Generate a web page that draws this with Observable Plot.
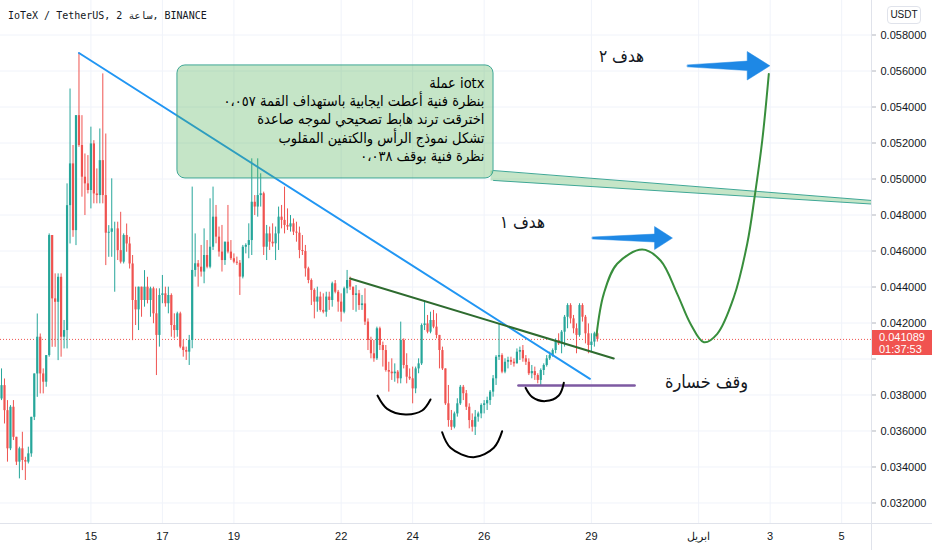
<!DOCTYPE html>
<html>
<head>
<meta charset="utf-8">
<script src="https://cdn.jsdelivr.net/npm/d3@7"></script>
<script src="https://cdn.jsdelivr.net/npm/@observablehq/plot@0.6"></script>
<style>
  html, body { margin: 0; padding: 0; background: #fff; }
  #wrap { position: relative; width: 932px; height: 550px; overflow: hidden; }
  #title { position: absolute; left: 8px; top: 10px; font: 10px "DejaVu Sans Mono", monospace; color: #131722; white-space: nowrap; }
  #usdt { position: absolute; left: 887px; top: 6px; width: 32px; height: 16px; border: 1px solid #e0e3eb; border-radius: 4px; font: 10px "Liberation Sans", sans-serif; color: #131722; text-align: center; line-height: 16px; background: #fff; }
  #last { position: absolute; left: 872px; width: 60px; height: 25px; background: #f05350; color: #fff; font: 11px "Liberation Sans", sans-serif; line-height: 12px; padding-top: 1px; box-sizing: border-box; padding-left: 7px; }
</style>
</head>
<body>
<div id="wrap">
  <div id="chart"></div>
  <div id="title">IoTeX / TetherUS, 2 ساعة, BINANCE</div>
  <div id="usdt">USDT</div>
  <div id="last"></div>
</div>
<script>
// ---------- candles (2-hour bars) ----------
const candleStart = "2021-03-12T12:00Z";
const stepHours = 2;
const firstOpen = 0.03778;
const closes = [
  0.03852,0.03713,0.03501,0.03732,0.03565,0.03427,0.03501,0.03436,0.03427,0.03473,
  0.03676,0.03917,0.04121,0.03917,0.03871,0.04019,0.04686,0.04334,0.04315,0.04454,
  0.04121,0.04158,0.04852,0.05084,0.04713,0.05352,0.05186,0.05010,0.04973,0.04936,
  0.05195,0.04917,0.04908,0.05102,0.04908,0.04699,0.04704,0.04723,0.04723,0.04602,
  0.04538,0.04686,0.04639,0.04528,0.04325,0.04273,0.04399,0.04325,0.04399,0.04325,
  0.04390,
  0.04251,0.04131,0.04353,0.04362,0.04307,0.04353,0.04186,0.04158,0.04251,0.04066,
  0.04047,0.04038,0.04103,0.04492,0.04529,0.04510,0.04483,0.04575,0.04510,0.04621,
  0.04788,0.04677,0.04594,0.04547,0.04649,0.04594,0.04557,0.04538,0.04532,0.04455,
  0.04621,0.04631,0.04658,0.04871,0.04844,0.04908,0.04918,0.04621,0.04695,0.04649,
  0.04640,0.04695,0.04788,0.04770,0.04742,0.04733,0.04751,0.04705,0.04699,0.04603,
  0.04597,0.04501,0.04436,
  0.04381,0.04316,0.04344,0.04270,0.04260,0.04344,0.04325,0.04418,0.04371,0.04316,
  0.04260,0.04390,0.04436,0.04399,0.04353,0.04362,0.04297,0.04306,0.04205,0.04103,
  0.04029,0.04001,0.04168,0.04075,0.04047,0.03936,0.03927,0.03918,0.03927,0.03890,
  0.04103,0.03964,0.03899,0.03890,0.03834,0.03945,0.03973,0.04186,0.04195,0.04149,
  0.04214,0.04177,0.04131,0.04047,0.03945,
  0.03751,0.03658,0.03621,0.03695,0.03751,0.03843,0.03807,0.03732,0.03658,0.03621,
  0.03677,0.03695,0.03742,0.03751,0.03769,0.03816,0.03890,0.04010,0.04019,0.03927,
  0.03982,0.03992,0.03982,0.03973,0.04038,0.04047,0.04001,0.03982,0.03918,0.03930,
  0.03908,0.03881,0.03936,0.03964,0.04001,0.04019,0.04047,0.04103,0.04084,0.04149,
  0.04232,0.04297,0.04223,0.04168,0.04131,0.04297,0.04232,0.04140,0.04075,0.04094,
  0.04140,0.04109
];
const highs = [
  0.03945,0.03889,0.03769,0.03741,0.03769,0.03565,0.03510,0.03593,0.03454,0.03510,
  0.03676,0.03917,0.04250,0.04139,0.03945,0.04019,0.04695,0.04686,0.04473,0.04473,
  0.04473,0.04214,0.04973,0.05500,0.05186,0.05352,0.05700,0.05352,0.05139,0.05130,
  0.05288,0.05213,0.05056,0.05278,0.05584,0.05250,0.04741,0.05001,0.04760,0.04760,
  0.04815,0.04695,0.04750,0.04676,0.04575,0.04399,0.04399,0.04362,0.04491,0.04454,
  0.04399,
  0.04399,0.04390,0.04390,0.04464,0.04399,0.04399,0.04362,0.04251,0.04260,0.04260,
  0.04103,0.04066,0.04131,0.04955,0.04695,0.04547,0.04631,0.04723,0.04658,0.04890,
  0.04955,0.04853,0.04733,0.04742,0.04649,0.04853,0.04658,0.04584,0.04566,0.04547,
  0.04631,0.04640,0.04751,0.05112,0.04908,0.05112,0.05029,0.04927,0.04742,0.04733,
  0.04751,0.04733,0.04844,0.04853,0.04955,0.04834,0.04797,0.04778,0.04760,0.04733,
  0.04686,0.04631,0.04510,
  0.04445,0.04390,0.04399,0.04371,0.04362,0.04371,0.04371,0.04427,0.04436,0.04381,
  0.04362,0.04399,0.04492,0.04455,0.04399,0.04408,0.04381,0.04353,0.04390,0.04223,
  0.04121,0.04103,0.04177,0.04177,0.04094,0.04075,0.03982,0.04001,0.03973,0.03936,
  0.04205,0.04112,0.04029,0.03945,0.03955,0.03955,0.04001,0.04195,0.04325,0.04242,
  0.04260,0.04270,0.04251,0.04121,0.04066,
  0.03899,0.03853,0.03714,0.03705,0.03779,0.03853,0.03853,0.03825,0.03751,0.03695,
  0.03714,0.03705,0.03751,0.03769,0.03788,0.03825,0.03908,0.04019,0.04195,0.04029,
  0.04001,0.04010,0.04010,0.04001,0.04056,0.04066,0.04075,0.04019,0.04001,0.03964,
  0.03955,0.03918,0.03945,0.03973,0.04019,0.04038,0.04056,0.04112,0.04140,0.04158,
  0.04242,0.04307,0.04307,0.04242,0.04195,0.04307,0.04307,0.04242,0.04195,0.04140,
  0.04149,0.04149
];
const lows = [
  0.03769,0.03639,0.03427,0.03491,0.03547,0.03408,0.03334,0.03380,0.03325,0.03417,
  0.03454,0.03658,0.03787,0.03806,0.03806,0.03843,0.04010,0.04065,0.04065,0.03991,
  0.04010,0.04056,0.04056,0.04639,0.04676,0.04630,0.05176,0.04899,0.04797,0.04917,
  0.04834,0.04862,0.04862,0.04862,0.04862,0.04519,0.04565,0.04565,0.04371,0.04547,
  0.04528,0.04528,0.04593,0.04500,0.04102,0.04186,0.04158,0.04232,0.04288,0.04306,
  0.04232,
  0.04196,0.03908,0.04066,0.04307,0.04288,0.04251,0.04121,0.04112,0.04121,0.04057,
  0.04010,0.03992,0.03964,0.04057,0.04455,0.04399,0.04455,0.04418,0.04501,0.04501,
  0.04603,0.04640,0.04566,0.04483,0.04520,0.04584,0.04547,0.04529,0.04520,0.04353,
  0.04445,0.04584,0.04557,0.04575,0.04797,0.04788,0.04844,0.04575,0.04547,0.04603,
  0.04621,0.04547,0.04603,0.04723,0.04695,0.04714,0.04705,0.04686,0.04649,0.04557,
  0.04575,0.04455,0.04418,
  0.04297,0.04223,0.04260,0.04260,0.04251,0.04232,0.04270,0.04288,0.04362,0.04260,
  0.04205,0.04251,0.04362,0.04381,0.04270,0.04260,0.04270,0.04270,0.04186,0.04047,
  0.04001,0.03982,0.03992,0.04047,0.03955,0.03927,0.03816,0.03881,0.03871,0.03862,
  0.03862,0.03945,0.03862,0.03881,0.03751,0.03807,0.03918,0.03964,0.04158,0.04140,
  0.04140,0.04168,0.04112,0.03945,0.03936,
  0.03742,0.03621,0.03603,0.03612,0.03677,0.03742,0.03769,0.03714,0.03612,0.03594,
  0.03575,0.03649,0.03668,0.03695,0.03714,0.03742,0.03788,0.03853,0.03992,0.03918,
  0.03918,0.03945,0.03964,0.03955,0.03973,0.03992,0.03982,0.03964,0.03908,0.03890,
  0.03881,0.03862,0.03853,0.03908,0.03955,0.03992,0.04010,0.04029,0.04075,0.04029,
  0.04066,0.04168,0.04195,0.04140,0.04029,0.04121,0.04205,0.04084,0.04029,0.04038,
  0.04066,0.04094
];
const lastPrice = 0.041089;
const lastCountdown = "01:37:53";

// ---------- axes ----------
const yTicks = [0.032,0.034,0.036,0.038,0.040,0.042,0.044,0.046,0.048,0.050,0.052,0.054,0.056,0.058];
const yTickHidden = [0.040]; // covered by the last-price badge in the reference
const xTickDates = ["2021-03-15","2021-03-17","2021-03-19","2021-03-22","2021-03-24","2021-03-26","2021-03-29","2021-04-01","2021-04-03","2021-04-05"];
const xTickLabels = ["15","17","19","22","24","26","29","ابريل","3","5"];
const xDomain = ["2021-03-12T11:19Z","2021-04-05T20:02Z"];
const yDomain = [0.030861, 0.059917];

// ---------- drawings ----------
const blueT = ["2021-03-14T16:00Z","2021-03-28T23:00Z"];
const blueP = [0.0570, 0.0389];
const necklineT = ["2021-03-22T06:00Z","2021-03-29T15:00Z"];
const necklineP = [0.04447, 0.04003];
const stopT = ["2021-03-26T23:00Z","2021-03-30T05:00Z"];
const stopP = [0.03853, 0.03853];
const pathT = ["2021-03-29T03:24Z","2021-03-29T08:18Z","2021-03-29T17:18Z","2021-03-30T10:06Z","2021-03-30T22:24Z","2021-03-31T09:36Z","2021-03-31T18:30Z","2021-04-01T03:30Z","2021-04-01T12:30Z","2021-04-01T23:36Z","2021-04-02T08:36Z","2021-04-02T13:42Z","2021-04-02T18:42Z","2021-04-02T23:06Z"];
const pathP = [0.04131,0.04362,0.04529,0.04608,0.04547,0.04362,0.04196,0.04093,0.04140,0.04343,0.04640,0.04908,0.05214,0.05584];
const arc1T = ["2021-03-23T00:24Z","2021-03-23T06:54Z","2021-03-23T19:12Z","2021-03-24T06:24Z","2021-03-24T12:00Z"];
const arc1P = [0.03797,0.03723,0.03692,0.03714,0.03775];
const arc2T = ["2021-03-24T19:48Z","2021-03-25T01:24Z","2021-03-25T17:00Z","2021-03-26T06:30Z","2021-03-26T12:06Z"];
const arc2P = [0.03593,0.03507,0.03454,0.03507,0.03599];
const arc3T = ["2021-03-27T03:48Z","2021-03-27T08:18Z","2021-03-27T17:12Z","2021-03-28T02:06Z","2021-03-28T05:30Z"];
const arc3P = [0.03840,0.03788,0.03766,0.03797,0.03868];
const arrow1T = ["2021-03-29T00:42Z","2021-03-30T18:24Z","2021-03-30T18:24Z","2021-03-31T06:24Z","2021-03-30T18:24Z","2021-03-30T18:24Z","2021-03-29T00:42Z"];
const arrow1P = [0.04678,0.04694,0.04736,0.04672,0.04608,0.04650,0.04667];
const arrow2T = ["2021-03-31T16:30Z","2021-04-02T08:36Z","2021-04-02T08:36Z","2021-04-02T23:48Z","2021-04-02T08:36Z","2021-04-02T08:36Z","2021-03-31T16:30Z"];
const arrow2P = [0.05634,0.05655,0.05708,0.05629,0.05550,0.05603,0.05623];
const boxT = ["2021-03-17T10:06Z","2021-03-26T06:18Z"];
const boxP = [0.05003, 0.05631];
const tailT = ["2021-03-26T04:18Z","2021-04-05T20:02Z","2021-04-05T20:02Z","2021-03-26T04:18Z"];
const tailP = [0.05047,0.04881,0.04861,0.04992];
const tailTopT = ["2021-03-26T06:18Z","2021-04-05T20:02Z"];
const tailTopP = [0.05047,0.04881];
const tailBotT = ["2021-03-26T06:18Z","2021-04-05T20:02Z"];
const tailBotP = [0.04992,0.04861];
const noteLines = [
  "عملة iotx",
  "بنظرة فنية أعطت ايجابية باستهداف القمة ٠،٠٥٧",
  "اخترقت ترند هابط تصحيحي لموجه صاعدة",
  "تشكل نموذج الرأس والكتفين المقلوب",
  "نظرة فنية بوقف ٠،٠٣٨"
];
const noteT = "2021-03-26T00:12Z";
const noteP = 0.05580;
const labelTexts = ["هدف ٢","هدف ١","وقف خسارة"];
const labelT = ["2021-03-29T20:12Z","2021-03-27T01:42Z","2021-04-01T05:18Z"];
const labelP = [0.0568,0.04758,0.03869];
const labelSize = [17,17,18];

// ---------- build ----------
const D = s => new Date(s);
const zip = (ts, ps) => ts.map((t, i) => ({t: D(t), p: ps[i]}));
const t0 = D(candleStart).getTime();
const candles = closes.map((c, i) => {
  const o = i === 0 ? firstOpen : closes[i - 1];
  return {t: new Date(t0 + i * stepHours * 3600e3), o, c,
          h: Math.max(highs[i], o, c), l: Math.min(lows[i], o, c), up: c >= o};
});
const col = d => d.up ? "#26a69a" : "#ef5350";
const xTicks = xTickDates.map(s => D(s + "T00:00Z"));
const xFmt = d => xTickLabels[xTicks.findIndex(t => +t === +d)];
const yFmt = d => yTickHidden.includes(d) ? "" : d3.format(".6f")(d);
const labels = labelTexts.map((s, i) => ({s, t: D(labelT[i]), p: labelP[i], size: labelSize[i]}));
const xMax = D(xDomain[1]);
const arabicFont = "'DejaVu Sans Condensed', 'DejaVu Sans', sans-serif";

const chart = Plot.plot({
  width: 932, height: 550,
  marginLeft: 0, marginRight: 61, marginTop: 0, marginBottom: 27,
  x: {type: "utc", domain: xDomain.map(D), axis: null},
  y: {domain: yDomain, axis: null},
  style: {fontFamily: "'Liberation Sans', sans-serif", fontSize: "11px", color: "#131722", background: "#fff"},
  marks: [
    Plot.gridY(yTicks, {stroke: "#f0f3fa", strokeOpacity: 1}),
    Plot.gridX(xTicks, {stroke: "#f0f3fa", strokeOpacity: 1}),
    Plot.ruleY([lastPrice], {stroke: "#ef5350", strokeDasharray: "1,2", strokeWidth: 1}),
    Plot.ruleX(candles, {x: "t", y1: "l", y2: "h", stroke: col, strokeWidth: 1}),
    Plot.ruleX(candles, {x: "t", y1: "o", y2: "c", stroke: col, strokeWidth: 2.2}),
    Plot.line(zip(blueT, blueP), {x: "t", y: "p", stroke: "#2196f3", strokeWidth: 2}),
    Plot.line(zip(necklineT, necklineP), {x: "t", y: "p", stroke: "#2e6b2f", strokeWidth: 2}),
    Plot.line(zip(stopT, stopP), {x: "t", y: "p", stroke: "#7e5aa2", strokeWidth: 2.5}),
    Plot.line(zip(arc1T, arc1P), {x: "t", y: "p", stroke: "#000", strokeWidth: 2, curve: "catmull-rom"}),
    Plot.line(zip(arc2T, arc2P), {x: "t", y: "p", stroke: "#000", strokeWidth: 2, curve: "catmull-rom"}),
    Plot.line(zip(arc3T, arc3P), {x: "t", y: "p", stroke: "#000", strokeWidth: 2, curve: "catmull-rom"}),
    Plot.line(zip(tailT, tailP), {x: "t", y: "p", fill: "#4caf50", fillOpacity: 0.32, stroke: "none", curve: "linear-closed"}),
    Plot.line(zip(tailTopT, tailTopP), {x: "t", y: "p", stroke: "#3fa796", strokeWidth: 1}),
    Plot.line(zip(tailBotT, tailBotP), {x: "t", y: "p", stroke: "#3fa796", strokeWidth: 1}),
    Plot.rect([{}], {x1: () => D(boxT[0]), x2: () => D(boxT[1]), y1: () => boxP[0], y2: () => boxP[1],
      fill: "#4caf50", fillOpacity: 0.32, stroke: "#3fa796", strokeWidth: 1, rx: 8}),
    Plot.text([noteLines.join("\n")], {x: () => D(noteT), y: () => noteP, text: d => d,
      textAnchor: "end", lineAnchor: "top", lineHeight: 1.27, fontSize: 14.5,
      fontFamily: arabicFont, fill: "#000"}),
    Plot.line(zip(pathT, pathP), {x: "t", y: "p", stroke: "#388e3c", strokeWidth: 2, curve: "catmull-rom"}),
    Plot.line(zip(arrow1T, arrow1P), {x: "t", y: "p", fill: "#1e88e5", stroke: "#1e88e5", strokeWidth: 0.5, curve: "linear-closed"}),
    Plot.line(zip(arrow2T, arrow2P), {x: "t", y: "p", fill: "#1e88e5", stroke: "#1e88e5", strokeWidth: 0.5, curve: "linear-closed"}),
    Plot.text(labels, {x: "t", y: "p", text: "s", fontSize: "size", fontFamily: arabicFont, fill: "#131722"}),
    Plot.axisY(yTicks, {anchor: "right", tickFormat: yFmt, tickSize: 4, tickPadding: 5, label: null,
      stroke: "#b2b5be", fill: "#131722", fontSize: 11}),
    Plot.axisX(xTicks, {anchor: "bottom", tickSize: 0, tickPadding: 9, tickFormat: xFmt, label: null, fill: "#131722", fontSize: 11}),
    Plot.ruleY([yDomain[0]], {stroke: "#e0e3eb", insetRight: -61}),
    Plot.ruleX([xMax], {stroke: "#e0e3eb", insetBottom: -27})
  ]
});
document.getElementById("chart").appendChild(chart);

const yPix = chart.scale("y").apply(lastPrice);
const last = document.getElementById("last");
last.style.top = (yPix - 9) + "px";
last.innerHTML = d3.format(".6f")(lastPrice) + "<br>" + lastCountdown;
</script>
</body>
</html>
